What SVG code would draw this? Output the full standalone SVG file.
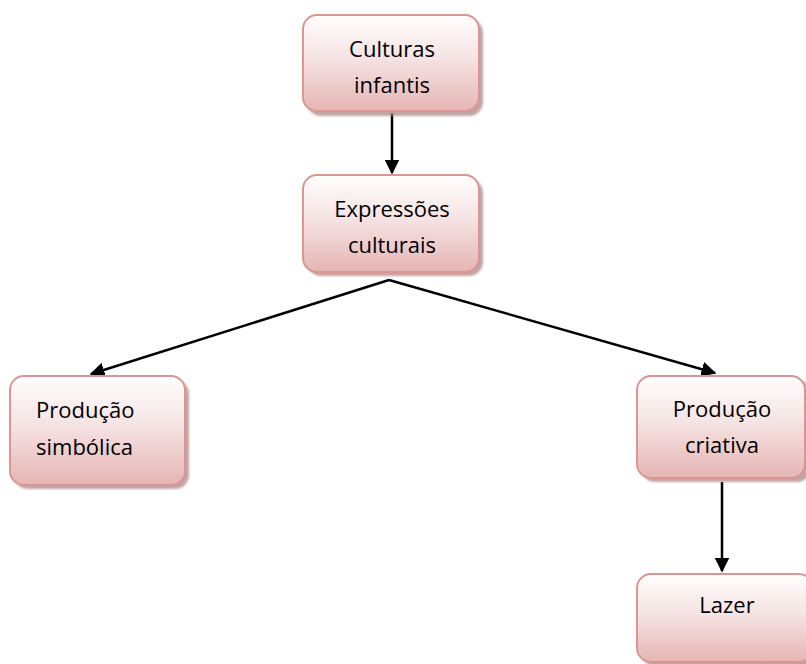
<svg xmlns="http://www.w3.org/2000/svg" width="806" height="664" viewBox="0 0 806 664">
  <defs>
    <linearGradient id="boxFill" x1="0" y1="0" x2="0" y2="1">
      <stop offset="0" stop-color="#fffefe"/>
      <stop offset="0.45" stop-color="#f6e3e3"/>
      <stop offset="1" stop-color="#e5b5b4"/>
    </linearGradient>
    <filter id="soft" x="-10%" y="-10%" width="130%" height="130%">
      <feGaussianBlur stdDeviation="1.2"/>
    </filter>
    <marker id="arrow" viewBox="0 0 10 10" refX="9" refY="5" markerWidth="6" markerHeight="6" orient="auto" markerUnits="strokeWidth">
      <path d="M0,0 L10,5 L0,10 z" fill="#000"/>
    </marker>
  </defs>
  <style>
    .shadow { fill: #b08585; opacity: 0.75; filter: url(#soft); }
    .box { fill: url(#boxFill); stroke: #d99694; stroke-width: 2; }
    .label { font-family: "Open Sans", "Noto Sans", "Liberation Sans", sans-serif; font-size: 22px; fill: #000; }
    .mid { text-anchor: middle; }
    .edge { stroke: #000; stroke-width: 2.5; fill: none; marker-end: url(#arrow); }
  </style>

  <g id="connectors">
    <line class="edge" x1="392" y1="113" x2="392" y2="173"/>
    <line class="edge" x1="389" y1="280" x2="91" y2="374"/>
    <line class="edge" x1="389" y1="280" x2="715" y2="373"/>
    <line class="edge" x1="722" y1="482" x2="722" y2="571"/>
  </g>

  <g id="culturas-infantis">
    <rect class="shadow" x="307" y="19" width="176" height="97" rx="14"/>
    <rect class="box" x="303" y="15" width="176" height="96" rx="14"/>
    <text class="label mid" x="392" y="57">Culturas</text>
    <text class="label mid" x="392" y="93">infantis</text>
  </g>

  <g id="expressoes-culturais">
    <rect class="shadow" x="307" y="179" width="176" height="97" rx="14"/>
    <rect class="box" x="303" y="175" width="176" height="97" rx="14"/>
    <text class="label mid" x="392" y="217">Expressões</text>
    <text class="label mid" x="392" y="253">culturais</text>
  </g>

  <g id="producao-simbolica">
    <rect class="shadow" x="14" y="380" width="175" height="109" rx="14"/>
    <rect class="box" x="10" y="376" width="175" height="109" rx="14"/>
    <text class="label" x="36" y="418">Produção</text>
    <text class="label" x="36" y="455">simbólica</text>
  </g>

  <g id="producao-criativa">
    <rect class="shadow" x="641" y="380" width="170" height="102" rx="14"/>
    <rect class="box" x="637" y="376" width="168" height="102" rx="14"/>
    <text class="label mid" x="722" y="417">Produção</text>
    <text class="label mid" x="722" y="453">criativa</text>
  </g>

  <g id="lazer">
    <rect class="shadow" x="641" y="578" width="176" height="88" rx="14"/>
    <rect class="box" x="637" y="574" width="176" height="88" rx="14"/>
    <text class="label mid" x="727" y="613">Lazer</text>
  </g>
</svg>
